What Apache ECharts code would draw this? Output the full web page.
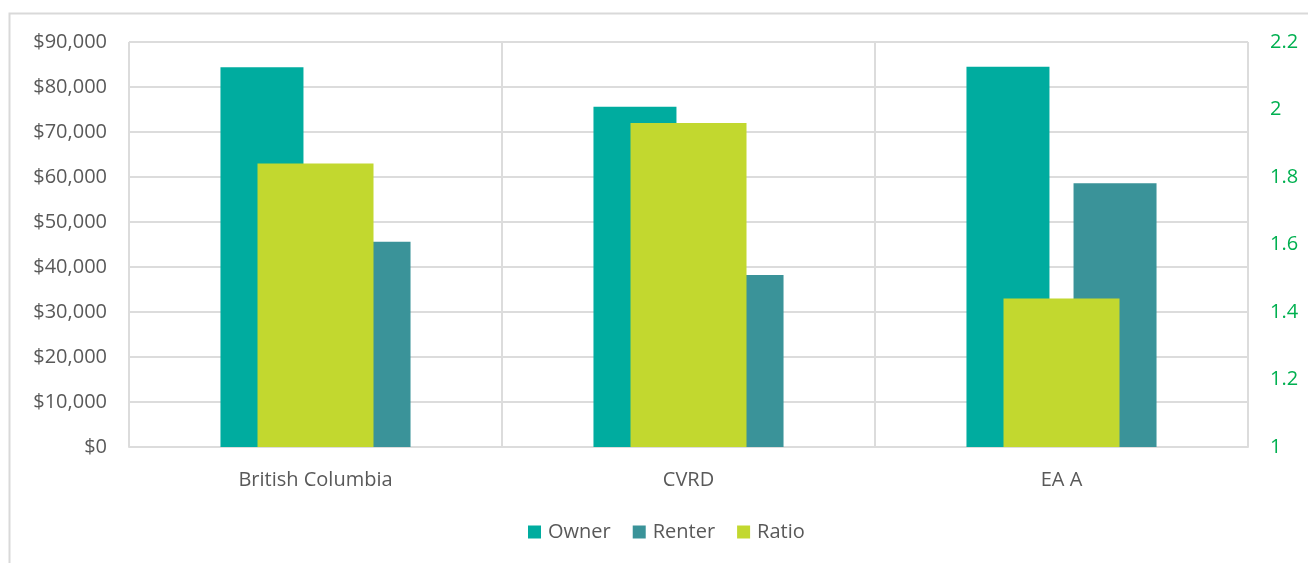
<!DOCTYPE html>
<html><head><meta charset="utf-8">
<script src="https://cdn.jsdelivr.net/npm/echarts@6/dist/echarts.min.js"></script>
<style>html,body{margin:0;padding:0;background:#fff}#c{width:1308px;height:563px}</style>
</head><body><div id="c"></div>
<script>
const categories = ['British Columbia', 'CVRD', 'EA A'];
const ownerValues = [84400, 75600, 84500];
const renterValues = [45600, 38200, 58600];
const ratioValues = [1.84, 1.96, 1.44];
const leftTicks = [0, 90000, 10000];
const rightTicks = [1, 2.2, 0.2];

const font = '"Open Sans", sans-serif';
const chart = echarts.init(document.getElementById('c'), null, {renderer: 'canvas'});
chart.setOption({
  animation: false,
  graphic: [{type: 'rect', shape: {x: 9.5, y: 13.5, width: 1320, height: 600}, style: {fill: 'none', stroke: '#d9d9d9', lineWidth: 2}, z: -1}],
  grid: {left: 129, right: 60, top: 42, bottom: 116},
  legend: {
    left: 523, top: 517, itemWidth: 13, itemHeight: 13, itemGap: 22, icon: 'rect',
    textStyle: {color: '#595959', fontSize: 20, fontFamily: font, padding: [0, 0, 0, 2]},
    data: ['Owner', 'Renter', 'Ratio']
  },
  xAxis: [{
    type: 'category', data: categories,
    axisLine: {lineStyle: {color: '#dcdcdc', width: 2}},
    axisTick: {show: false},
    splitLine: {show: true, lineStyle: {color: '#dcdcdc', width: 2}},
    axisLabel: {color: '#595959', fontSize: 20, fontFamily: font, margin: 23}
  }, {
    type: 'category', data: categories, show: false
  }],
  yAxis: [{
    type: 'value', min: leftTicks[0], max: leftTicks[1], interval: leftTicks[2],
    axisLine: {show: false}, axisTick: {show: false},
    splitLine: {lineStyle: {color: '#dcdcdc', width: 2}},
    axisLabel: {color: '#595959', fontSize: 20, fontFamily: font, margin: 22,
      formatter: v => '$' + v.toLocaleString('en-US')}
  }, {
    type: 'value', min: rightTicks[0], max: rightTicks[1], interval: rightTicks[2],
    axisLine: {show: false}, axisTick: {show: false}, splitLine: {show: false},
    axisLabel: {color: '#00B050', fontSize: 20, fontFamily: font, margin: 22,
      formatter: v => String(+v.toFixed(1))}
  }],
  series: [
    {name: 'Owner', type: 'bar', data: ownerValues, xAxisIndex: 0, yAxisIndex: 0,
      barWidth: 83, barGap: '29%', itemStyle: {color: '#00AC9F'}},
    {name: 'Renter', type: 'bar', data: renterValues, xAxisIndex: 0, yAxisIndex: 0,
      barWidth: 83, barGap: '29%', itemStyle: {color: '#3A9399'}},
    {name: 'Ratio', type: 'bar', data: ratioValues, xAxisIndex: 1, yAxisIndex: 1,
      barWidth: 116, itemStyle: {color: '#C2D82F'}, z: 3}
  ]
});
</script></body></html>
